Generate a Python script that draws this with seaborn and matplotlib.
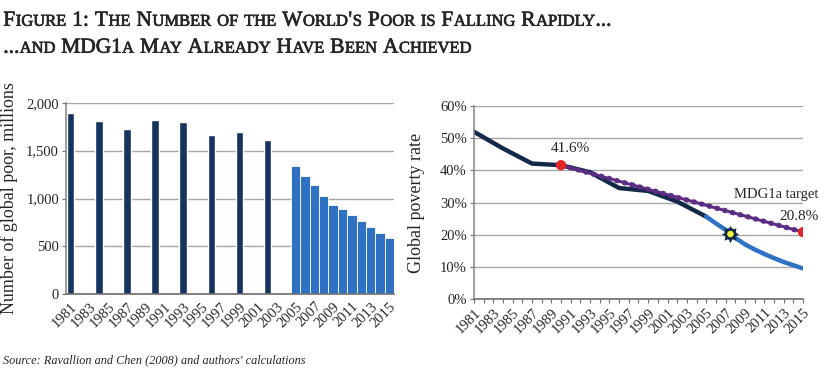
import matplotlib
matplotlib.use("Agg")
import matplotlib.pyplot as plt
import matplotlib.patheffects as pe
import seaborn as sns

# ---------- data ----------
all_years = list(range(1981, 2016))

# left panel: number of poor (millions)
survey_years = [1981, 1984, 1987, 1990, 1993, 1996, 1999, 2002]
survey_poor = [1896, 1809, 1722, 1819, 1798, 1663, 1694, 1610]
proj_years = [2005, 2006, 2007, 2008, 2009, 2010, 2011, 2012, 2013, 2014, 2015]
proj_poor = [1339, 1235, 1141, 1026, 932, 890, 828, 765, 703, 640, 588]

# right panel: poverty rate (%)
rate_years = [1981, 1984, 1987, 1990, 1993, 1996, 1999, 2002, 2005]
rate_vals = [52.0, 46.8, 42.1, 41.6, 39.4, 34.5, 33.6, 30.3, 25.6]
proj_rate_years = [2005, 2006, 2007, 2008, 2009, 2010, 2011, 2012, 2013, 2014, 2015]
proj_rate_vals = [25.6, 23.5, 21.5, 19.0, 17.0, 15.4, 14.0, 12.7, 11.5, 10.5, 9.5]
target_years = [1990, 2015]
target_vals = [41.6, 20.8]
reached_year = 2007.5
reached_val = 20.2

NAVY = "#16345f"
BLUE = "#2f72c4"
LINE_NAVY = "#14284a"
PURPLE = "#5a2d82"
RED = "#e0262a"
TXT = "#262626"
GRID = "#a6a6a6"

sns.set_theme(style="white")
plt.rcParams['font.family'] = ['Liberation Serif', 'DejaVu Serif']

fig = plt.figure(figsize=(8.3, 3.7), dpi=100)
ax1 = fig.add_axes([0.0795, 0.2046, 0.3952, 0.5178])
ax2 = fig.add_axes([0.571, 0.1919, 0.3965, 0.5216])


# small caps title, built from runs of text
def small_caps(x, y, s, big, small, **kw):
    r = fig.canvas.get_renderer()
    W = fig.bbox.width

    def width(txt, size):
        t = fig.text(0, 0, txt, fontsize=size, **kw)
        w = t.get_window_extent(r).width
        t.remove()
        return w

    space = width("a a", big) - width("aa", big)
    runs = []
    for ch in s:
        kind = "sp" if ch == " " else ("small" if ch.islower() else "big")
        if runs and runs[-1][0] == kind:
            runs[-1][1] += ch
        else:
            runs.append([kind, ch])
    px = x * W
    for kind, txt in runs:
        if kind == "sp":
            px += space * len(txt)
            continue
        size = small if kind == "small" else big
        t = fig.text(px / W, y, txt.upper(), fontsize=size, va="baseline", **kw)
        t.set_path_effects([pe.withStroke(linewidth=0.5, foreground=TXT)])
        px += t.get_window_extent(r).width + 0.6


small_caps(0.004, 0.9305, "Figure 1: The Number of the World's Poor is Falling Rapidly...",
           15.4, 11.9, color=TXT)
small_caps(0.004, 0.8576, "...and MDG1a May Already Have Been Achieved",
           15.4, 11.9, color=TXT)

# ---------- left: bars ----------
sns.barplot(x=survey_years, y=survey_poor, order=all_years, color=NAVY,
            saturation=1, width=0.8, ax=ax1)
sns.barplot(x=proj_years, y=proj_poor, order=all_years, color=BLUE,
            saturation=1, width=1.0, edgecolor="white", linewidth=0.6, ax=ax1)
ax1.set_xlim(-0.5, len(all_years) - 0.5)
ax1.set_ylim(0, 2000)
ax1.set_yticks([0, 500, 1000, 1500, 2000])
ax1.set_yticklabels(["0", "500", "1,000", "1,500", "2,000"])
ax1.set_xticks(range(0, len(all_years), 2))
ax1.set_xticklabels([str(y) for y in all_years[::2]], rotation=45, ha="right",
                    rotation_mode="anchor")
ax1.yaxis.grid(True, color=GRID, linewidth=1)
ax1.set_axisbelow(True)
ax1.set_ylabel("Number of global poor, millions", fontsize=13, color=TXT)
ax1.yaxis.set_label_coords(-0.147, 0.5)

# ---------- right: lines ----------
sns.lineplot(x=rate_years, y=rate_vals, color=LINE_NAVY, linewidth=3.2, ax=ax2)
sns.lineplot(x=proj_rate_years, y=proj_rate_vals, color=BLUE, linewidth=3.2, ax=ax2)
sns.lineplot(x=target_years, y=target_vals, color=PURPLE, linewidth=2.2, ax=ax2)
sns.lineplot(x=target_years, y=target_vals, color=PURPLE, linewidth=3.6,
             linestyle=(0, (0.8, 0.8)), ax=ax2)
sns.scatterplot(x=target_years, y=target_vals, color=RED, s=55, zorder=5,
                edgecolor="none", ax=ax2)
sns.scatterplot(x=[reached_year], y=[reached_val], marker=(8, 1, 0), s=120,
                color=LINE_NAVY, edgecolor=LINE_NAVY, zorder=6, ax=ax2)
sns.scatterplot(x=[reached_year], y=[reached_val], marker="o", s=75,
                color=LINE_NAVY, edgecolor="none", zorder=6, ax=ax2)
sns.scatterplot(x=[reached_year], y=[reached_val], color="#f4f23c", s=22,
                edgecolor="none", zorder=7, ax=ax2)

ax2.set_xlim(1981, 2015)
ax2.set_ylim(0, 60)
ax2.set_yticks(range(0, 61, 10))
ax2.set_yticklabels([f"{v}%" for v in range(0, 61, 10)])
ax2.set_xticks(all_years[::2])
ax2.set_xticks(all_years, minor=True)
ax2.set_xticklabels([str(y) for y in all_years[::2]], rotation=45, ha="right",
                    rotation_mode="anchor")
ax2.yaxis.grid(True, color=GRID, linewidth=1)
ax2.set_axisbelow(True)
ax2.set_ylabel("Global poverty rate", fontsize=13, color=TXT)
ax2.yaxis.set_label_coords(-0.149, 0.5)

ax2.annotate("41.6%", (target_years[0], target_vals[0]), xytext=(9, 13),
             textcoords="offset pixels", ha="center", va="baseline", fontsize=11, color=TXT)
ax2.annotate("20.8%", (target_years[1], target_vals[1]), xytext=(-4, 12),
             textcoords="offset pixels", ha="center", va="baseline", fontsize=11, color=TXT)
ax2.annotate("MDG1a target", (target_years[1], target_vals[1]), xytext=(-27, 34),
             textcoords="offset pixels", ha="center", va="baseline", fontsize=10.5, color=TXT)

for ax in (ax1, ax2):
    sns.despine(ax=ax, top=True, right=True)
    ax.spines["left"].set_color("#8c8c8c")
    ax.spines["bottom"].set_color("#6e6e6e")
    ax.spines["left"].set_linewidth(1.2)
    ax.spines["bottom"].set_linewidth(1.2)
    ax.tick_params(axis="both", which="both", labelsize=10.5, colors="#6e6e6e",
                   labelcolor=TXT, length=3, width=0.8, direction="out",
                   left=True, bottom=True, pad=2)
    ax.set_xlabel("")
ax1.tick_params(axis="x", length=0, pad=4)

fig.text(0.004, 0.019, "Source: Ravallion and Chen (2008) and authors' calculations",
         fontsize=8.8, style="italic", color=TXT)

fig.savefig("out.png", dpi=100)
